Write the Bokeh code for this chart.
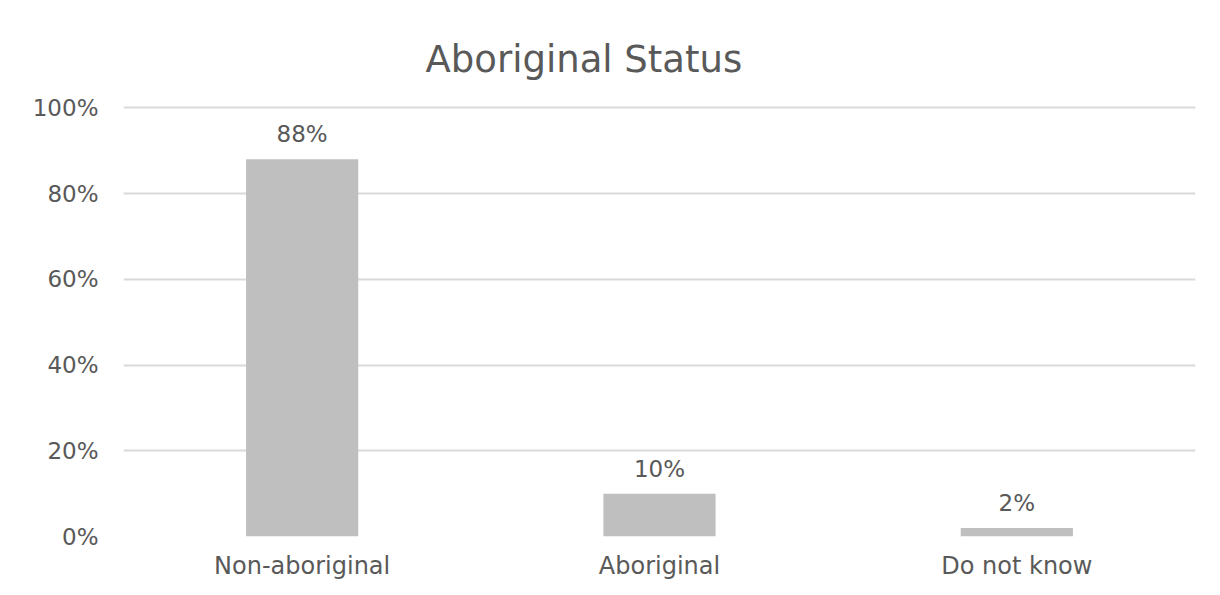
from bokeh.plotting import figure
from bokeh.models import ColumnDataSource, Range1d, FixedTicker, Title, CustomJSTickFormatter
from bokeh.core.properties import value
from bokeh.embed import file_html
from bokeh.resources import INLINE

categories = ["Non-aboriginal", "Aboriginal", "Do not know"]
shares = [88, 10, 2]
labels = ["88%", "10%", "2%"]
y_ticks = [0, 20, 40, 60, 80, 100]

FONT = "DejaVu Sans"
TXT = "#595959"

src = ColumnDataSource(dict(cat=categories, val=shares, lab=labels))

p = figure(x_range=categories, y_range=Range1d(0, 101), width=1212, height=590,
           output_backend="svg", toolbar_location=None,
           min_border_left=123, min_border_right=17, min_border_top=103, min_border_bottom=54)
p.outline_line_color = None
p.background_fill_color = "white"
p.border_fill_color = "white"

t = Title(text="Aboriginal Status", align="left", offset=302,
          text_font=FONT, text_font_size="37px", text_font_style="normal",
          text_color=TXT, standoff=46)
p.add_layout(t, "above")

p.vbar(x="cat", top="val", width=0.314, source=src, color="#bfbfbf", line_color=None)
p.text(x="cat", y="val", text="lab", source=src, text_align="center", text_baseline="middle",
       y_offset=-25, text_font=value(FONT), text_font_size="23px", text_color=TXT)

p.yaxis.ticker = FixedTicker(ticks=y_ticks)
p.yaxis.formatter = CustomJSTickFormatter(code="return tick + '%';")
for ax in (p.xaxis[0], p.yaxis[0]):
    ax.axis_line_color = None
    ax.major_tick_line_color = None
    ax.minor_tick_line_color = None
    ax.major_label_text_font = FONT
    ax.major_label_text_color = TXT
p.yaxis.major_label_text_font_size = "23px"
p.xaxis.major_label_text_font_size = "24px"
p.yaxis.major_label_standoff = 19
p.xaxis.major_label_standoff = 9

p.xgrid.grid_line_color = None
p.ygrid.ticker = FixedTicker(ticks=y_ticks)
p.ygrid.grid_line_color = "#d9d9d9"
p.ygrid.grid_line_width = 2
p.x_range.range_padding = 0

open("out.html", "w").write(file_html(p, INLINE))
